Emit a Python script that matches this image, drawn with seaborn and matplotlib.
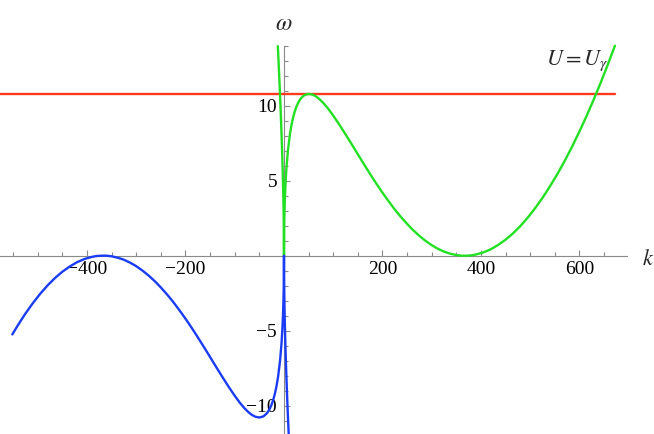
import numpy as np
import matplotlib
matplotlib.use("Agg")
import matplotlib.pyplot as plt
import seaborn as sns

# branches of the dispersion curve
green_left_k = [-12.5, -12, -10, -8, -6, -4, -3, -2, -1, -0.5]
green_left_w = [13.97, 13.63, 12.22, 10.71, 9.06, 7.19, 6.12, 4.89, 3.36, 2.33]

green_right_k = [0, 0.5, 1, 2, 3, 5, 8, 12, 15, 18, 21, 25, 30, 35, 42, 50, 58, 65, 72, 80,
                 90, 100, 112, 125, 137, 150, 162, 175, 187, 200, 212, 225, 237, 250, 262, 275,
                 287, 300, 312, 325, 337, 350, 360, 370, 380, 390, 405, 420, 435, 450, 465, 480,
                 495, 510, 525, 540, 555, 570, 585, 600, 615, 630, 643, 655, 672]
green_right_w = [0.0, 2.10, 2.90, 3.97, 4.73, 5.85, 7.01, 8.08, 8.67, 9.14, 9.52, 9.92, 10.28,
                 10.52, 10.72, 10.79, 10.74, 10.62, 10.44, 10.18, 9.79, 9.34, 8.76, 8.09, 7.46,
                 6.76, 6.12, 5.44, 4.83, 4.20, 3.65, 3.08, 2.60, 2.12, 1.71, 1.32, 1.00, 0.70,
                 0.47, 0.27, 0.14, 0.04, 0.00, 0.00, 0.02, 0.08, 0.22, 0.43, 0.72, 1.07, 1.49,
                 1.98, 2.54, 3.17, 3.86, 4.62, 5.44, 6.32, 7.27, 8.29, 9.36, 10.50, 11.53, 12.53,
                 14.00]

blue_left_k = [-551.6, -540, -525, -510, -495, -480, -465, -450, -435, -420, -405, -390, -380,
               -370, -360, -350, -337, -325, -312, -300, -287, -275, -262, -250, -237, -225,
               -212, -200, -187, -175, -162, -150, -137, -125, -112, -100, -90, -80, -72, -65,
               -58, -50, -42, -35, -30, -25, -21, -18, -15, -12, -8, -5, -3, -2, -1, -0.5, 0]
blue_left_w = [-5.25, -4.62, -3.86, -3.17, -2.54, -1.98, -1.49, -1.07, -0.72, -0.43, -0.22,
               -0.08, -0.02, 0.00, 0.00, -0.04, -0.14, -0.27, -0.47, -0.70, -1.00, -1.32, -1.71,
               -2.12, -2.60, -3.08, -3.65, -4.20, -4.83, -5.44, -6.12, -6.76, -7.46, -8.09,
               -8.76, -9.34, -9.79, -10.18, -10.44, -10.62, -10.74, -10.79, -10.72, -10.52,
               -10.28, -9.92, -9.52, -9.14, -8.67, -8.08, -7.01, -5.85, -4.73, -3.97, -2.90,
               -2.10, 0.0]

blue_right_k = [0.5, 1, 2, 3, 4, 6, 8, 10]
blue_right_w = [-2.33, -3.36, -4.89, -6.12, -7.19, -9.06, -10.71, -12.22]

red_k = [-600, 672]
red_w = [10.75, 10.75]

x_major = [-400, -200, 200, 400, 600]
y_major = [-10, -5, 5, 10]

sns.set_theme(style="white")
plt.rcParams["font.family"] = ["Liberation Serif", "DejaVu Serif"]
plt.rcParams["mathtext.fontset"] = "stix"

fig = plt.figure(figsize=(6.54, 4.34), dpi=100)
ax = fig.add_axes([0, 0, 1, 1])

sns.lineplot(x=red_k, y=red_w, color="#ff3a1f", lw=1.7, estimator=None, sort=False, ax=ax, zorder=3)
sns.lineplot(x=green_left_k + green_right_k, y=green_left_w + green_right_w, color="#22e022",
             lw=1.7, estimator=None, sort=False, ax=ax, zorder=4)
sns.lineplot(x=blue_left_k + blue_right_k, y=blue_left_w + blue_right_w, color="#1a3cf5",
             lw=1.7, estimator=None, sort=False, ax=ax, zorder=4)

ax.set_xlim(-576.6, 751.3)
ax.set_ylim(-11.89, 17.05)

# axes through the origin
for side in ["top", "right"]:
    ax.spines[side].set_visible(False)
ax.spines["left"].set_position(("data", 0))
ax.spines["bottom"].set_position(("data", 0))
ax.spines["left"].set_bounds(-11.89, 13.97)
ax.spines["bottom"].set_bounds(-576.6, 696)
for side in ["left", "bottom"]:
    ax.spines[side].set_color("#8a8a8a")
    ax.spines[side].set_linewidth(0.8)

ax.set_xticks(x_major)
ax.set_xticks(np.arange(-550, 651, 50), minor=True)
ax.set_yticks(y_major)
ax.set_yticks(np.arange(-11, 15, 1), minor=True)
ax.set_xticklabels([str(v).replace("-", "\u2212") for v in x_major])
ax.set_yticklabels([str(v).replace("-", "\u2212") for v in y_major])

ax.tick_params(which="both", bottom=True, left=True, direction="in", color="#8a8a8a",
               width=0.8, labelsize=14, labelcolor="black")
ax.tick_params(which="major", length=4.5)
ax.tick_params(which="minor", length=3)
ax.tick_params(axis="x", which="major", pad=4)
ax.tick_params(axis="y", which="major", pad=5)

ax.text(-1, 15.4, r"$\omega$", fontsize=17, ha="center", va="center")
ax.text(739, -0.3, r"$k$", fontsize=16, ha="center", va="center")
ax.text(531, 12.7, r"$U{=}U_{\gamma}$", fontsize=16, ha="left", va="baseline")

ax.grid(False)
fig.savefig("out.png", dpi=100)
